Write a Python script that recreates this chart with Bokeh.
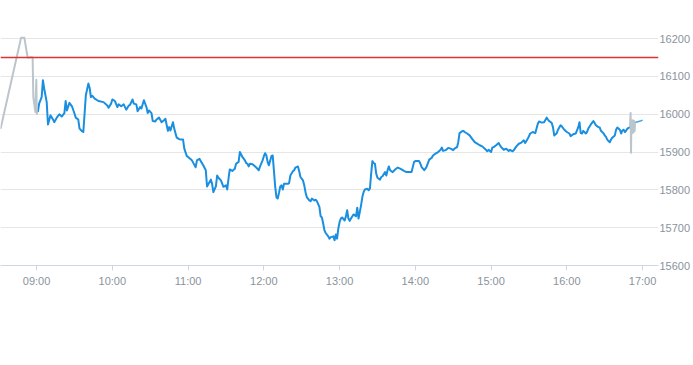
import pandas as pd
from bokeh.plotting import figure
from bokeh.models import Range1d, FixedTicker, DatetimeTickFormatter, Span, ColumnDataSource
from bokeh.embed import file_html
from bokeh.resources import INLINE

# ---------------- data ----------------
session_day = "2024-01-02"
prev_close = 16150

x_tick_labels = ["09:00", "10:00", "11:00", "12:00", "13:00", "14:00", "15:00", "16:00", "17:00"]
y_ticks = [15600, 15700, 15800, 15900, 16000, 16100, 16200]

# pre-market (grey)
pre_time = ["08:31:24", "08:47:42", "08:50:18", "08:52:54", "08:54:30", "08:55:48", "08:56:51",
            "08:57:24", "08:59:00", "08:59:46", "09:00:10", "09:00:48"]
pre_price = [15961, 16202, 16202, 16150, 16150, 16151, 16150,
             16045, 16006, 16091, 16001, 16006]

# regular session (blue)
main_time = [
    "09:01", "09:02", "09:04", "09:05", "09:06", "09:08", "09:09", "09:11", "09:13", "09:14",
    "09:16", "09:18", "09:20", "09:22", "09:23", "09:24", "09:26", "09:28", "09:30", "09:31",
    "09:33", "09:34", "09:36", "09:37", "09:39", "09:41", "09:42", "09:43", "09:44", "09:46",
    "09:49", "09:53", "09:56", "09:57", "09:59", "10:00", "10:02", "10:04", "10:05", "10:07",
    "10:09", "10:11", "10:13", "10:14", "10:16", "10:17", "10:19", "10:20", "10:22", "10:23",
    "10:25", "10:27", "10:28", "10:29", "10:31", "10:32", "10:34", "10:35", "10:37", "10:39",
    "10:41", "10:42", "10:44", "10:45", "10:46", "10:48", "10:49", "10:51", "10:53", "10:55",
    "10:56", "10:57", "10:59", "11:00", "11:03", "11:04", "11:06", "11:07", "11:09", "11:10",
    "11:12", "11:14", "11:15", "11:16", "11:18", "11:19", "11:20", "11:22", "11:23", "11:24",
    "11:26", "11:28", "11:30", "11:31", "11:32", "11:33", "11:35", "11:37", "11:38", "11:40",
    "11:41", "11:43", "11:45", "11:46", "11:47", "11:48", "11:49", "11:51", "11:52", "11:54",
    "11:56", "11:57", "11:59", "12:00", "12:01", "12:02", "12:03", "12:04", "12:06", "12:07",
    "12:08", "12:09", "12:10", "12:11", "12:12", "12:13", "12:14", "12:15", "12:16", "12:19",
    "12:20", "12:21", "12:23", "12:24", "12:25", "12:27", "12:28", "12:29", "12:31", "12:32",
    "12:33", "12:34", "12:36", "12:37", "12:38", "12:40", "12:41", "12:42", "12:44", "12:45",
    "12:46", "12:47", "12:48", "12:49", "12:51", "12:52", "12:53", "12:55", "12:56", "12:57",
    "12:58", "12:59", "13:00", "13:01", "13:02", "13:04", "13:05", "13:06", "13:07", "13:08",
    "13:09", "13:11", "13:12", "13:13", "13:14", "13:15", "13:17", "13:18", "13:19", "13:20",
    "13:22", "13:23", "13:24", "13:25", "13:26", "13:27", "13:28", "13:29", "13:30", "13:32",
    "13:33", "13:34", "13:36", "13:37", "13:38", "13:39", "13:40", "13:42", "13:44", "13:46",
    "13:48", "13:51", "13:53", "13:56", "13:57", "13:59", "14:00", "14:03", "14:04", "14:05",
    "14:07", "14:08", "14:09", "14:11", "14:13", "14:14", "14:16", "14:18", "14:20", "14:21",
    "14:22", "14:24", "14:26", "14:28", "14:30", "14:31", "14:33", "14:34", "14:35", "14:37",
    "14:38", "14:39", "14:41", "14:43", "14:45", "14:47", "14:49", "14:51", "14:53", "14:55",
    "14:57", "14:58", "15:00", "15:01", "15:02", "15:04", "15:06", "15:07", "15:08", "15:10",
    "15:12", "15:14", "15:15", "15:17", "15:18", "15:20", "15:22", "15:24", "15:26", "15:27",
    "15:29", "15:31", "15:33", "15:35", "15:37", "15:38", "15:40", "15:42", "15:44", "15:45",
    "15:46", "15:48", "15:49", "15:50", "15:52", "15:53", "15:55", "15:56", "15:58", "16:00",
    "16:02", "16:03", "16:05", "16:07", "16:09", "16:10", "16:11", "16:12", "16:13", "16:15",
    "16:16", "16:17", "16:19", "16:21", "16:22", "16:23", "16:25", "16:26", "16:27", "16:29",
    "16:30", "16:31", "16:32", "16:34", "16:35", "16:36", "16:38", "16:39", "16:40", "16:42",
    "16:43", "16:44", "16:45", "16:46", "16:47", "16:48", "16:50",
]
main_price = [
    16006, 16028, 16045, 16090, 16068, 16032, 15973, 15997, 15986, 15979,
    15991, 16000, 15994, 16003, 16035, 16010, 16030, 16021, 16002, 15991,
    15986, 15962, 15955, 15953, 16050, 16081, 16070, 16045, 16049, 16041,
    16035, 16032, 16023, 16017, 16028, 16039, 16035, 16019, 16026, 16021,
    16026, 16012, 16023, 16025, 16039, 16028, 16026, 16008, 16019, 16015,
    16037, 16019, 16003, 16010, 16003, 15982, 15981, 15986, 15991, 15979,
    15984, 15988, 15956, 15966, 15957, 15979, 15962, 15938, 15934, 15933,
    15933, 15909, 15889, 15887, 15878, 15872, 15860, 15878, 15882, 15876,
    15865, 15852, 15809, 15815, 15827, 15816, 15794, 15809, 15838, 15832,
    15825, 15808, 15812, 15801, 15830, 15854, 15850, 15856, 15869, 15874,
    15900, 15887, 15878, 15871, 15869, 15862, 15869, 15868, 15865, 15859,
    15852, 15862, 15878, 15889, 15897, 15891, 15874, 15865, 15889, 15891,
    15850, 15808, 15780, 15777, 15792, 15809, 15812, 15801, 15816, 15816,
    15818, 15838, 15849, 15852, 15859, 15862, 15849, 15834, 15825, 15812,
    15794, 15781, 15772, 15770, 15777, 15772, 15774, 15770, 15755, 15730,
    15727, 15711, 15693, 15686, 15677, 15671, 15675, 15677, 15667, 15682,
    15671, 15698, 15715, 15724, 15727, 15719, 15730, 15746, 15724, 15718,
    15724, 15735, 15733, 15730, 15753, 15724, 15759, 15781, 15794, 15801,
    15803, 15799, 15803, 15843, 15876, 15871, 15869, 15843, 15832, 15827,
    15834, 15836, 15847, 15838, 15852, 15862, 15852, 15847, 15854, 15859,
    15856, 15850, 15847, 15847, 15847, 15874, 15876, 15876, 15869, 15860,
    15852, 15856, 15862, 15880, 15885, 15891, 15896, 15900, 15906, 15912,
    15903, 15905, 15911, 15909, 15905, 15909, 15913, 15926, 15950, 15955,
    15956, 15953, 15949, 15944, 15935, 15926, 15922, 15918, 15915, 15909,
    15902, 15906, 15900, 15912, 15913, 15918, 15924, 15918, 15913, 15906,
    15909, 15903, 15906, 15902, 15905, 15915, 15922, 15925, 15931, 15924,
    15935, 15949, 15953, 15950, 15975, 15981, 15978, 15979, 15991, 15986,
    15982, 15977, 15966, 15944, 15950, 15959, 15971, 15968, 15959, 15953,
    15949, 15942, 15947, 15949, 15965, 15979, 15950, 15949, 15956, 15949,
    15953, 15962, 15973, 15982, 15977, 15971, 15966, 15965, 15956, 15950,
    15944, 15940, 15933, 15926, 15933, 15938, 15944, 15959, 15965, 15959,
    15949, 15957, 15959, 15953, 15957, 15962, 15966,
]

# closing auction (grey)
close_time = ["16:50:00", "16:50:30", "16:50:50", "16:51:10", "16:51:40", "16:52:10",
              "16:52:40", "16:53:10", "16:53:40", "16:54:00"]
close_price = [15966, 16003, 15898, 15984, 15950, 15984, 15952, 15983, 15955, 15978]

# after close (thin blue)
post_time = ["16:54", "16:57", "17:00"]
post_price = [15978, 15981, 15984]


def ts(t):
    return pd.Timestamp(f"{session_day} {t}")


def ms(t):
    return ts(t).value / 1e6


# ---------------- figure ----------------
FONT = "Liberation Sans"
LABEL = "#8a939d"

p = figure(
    width=693, height=365,
    x_axis_type="datetime", y_axis_location="right",
    x_range=Range1d(start=ms("08:31:24"), end=ms("17:12:36")),
    y_range=Range1d(start=15600, end=16300.72),
    output_backend="svg", toolbar_location=None,
    min_border_left=0, min_border_right=0, min_border_top=0, min_border_bottom=100,
    background_fill_color="white", border_fill_color="white",
)
p.outline_line_color = None

p.xgrid.visible = False
p.ygrid.grid_line_color = "#e6e6e6"
p.ygrid.grid_line_width = 1

p.xaxis.ticker = FixedTicker(ticks=[ms(t) for t in x_tick_labels])
p.xaxis.formatter = DatetimeTickFormatter(hours="%H:%M", hourmin="%H:%M", minutes="%H:%M",
                                          days="%H:%M", minsec="%H:%M")
p.xaxis.axis_line_color = "#ccd6eb"
p.xaxis.major_tick_line_color = "#ccd6eb"
p.xaxis.major_tick_out = 5
p.xaxis.major_tick_in = 0
p.xaxis.minor_tick_line_color = None
p.xaxis.major_label_standoff = 4

p.yaxis.ticker = FixedTicker(ticks=y_ticks)
p.yaxis.axis_line_color = None
p.yaxis.major_tick_line_color = None
p.yaxis.major_tick_out = 0
p.yaxis.major_tick_in = 0
p.yaxis.minor_tick_line_color = None
p.yaxis.major_label_standoff = 1

for ax in (p.xaxis, p.yaxis):
    ax.major_label_text_font = FONT
    ax.major_label_text_font_size = "11px"
    ax.major_label_text_color = LABEL

src_main = ColumnDataSource(dict(t=[ts(t) for t in main_time], v=main_price))
src_pre = ColumnDataSource(dict(t=[ts(t) for t in pre_time], v=pre_price))
src_close = ColumnDataSource(dict(t=[ts(t) for t in close_time], v=close_price))
src_post = ColumnDataSource(dict(t=[ts(t) for t in post_time], v=post_price))

BLUE = "#1a8fe0"
GREY = "#bcc4cc"

p.line("t", "v", source=src_main, line_color=BLUE, line_width=2, line_join="round")
p.line("t", "v", source=src_post, line_color=BLUE, line_width=1.5, line_alpha=0.8, line_join="round")
p.line("t", "v", source=src_pre, line_color=GREY, line_width=2, line_join="round")
p.line("t", "v", source=src_close, line_color=GREY, line_width=2, line_join="round")

p.add_layout(Span(location=prev_close, dimension="width", line_color="#dd3333", line_width=1.5))

open("out.html", "w").write(file_html(p, INLINE))
